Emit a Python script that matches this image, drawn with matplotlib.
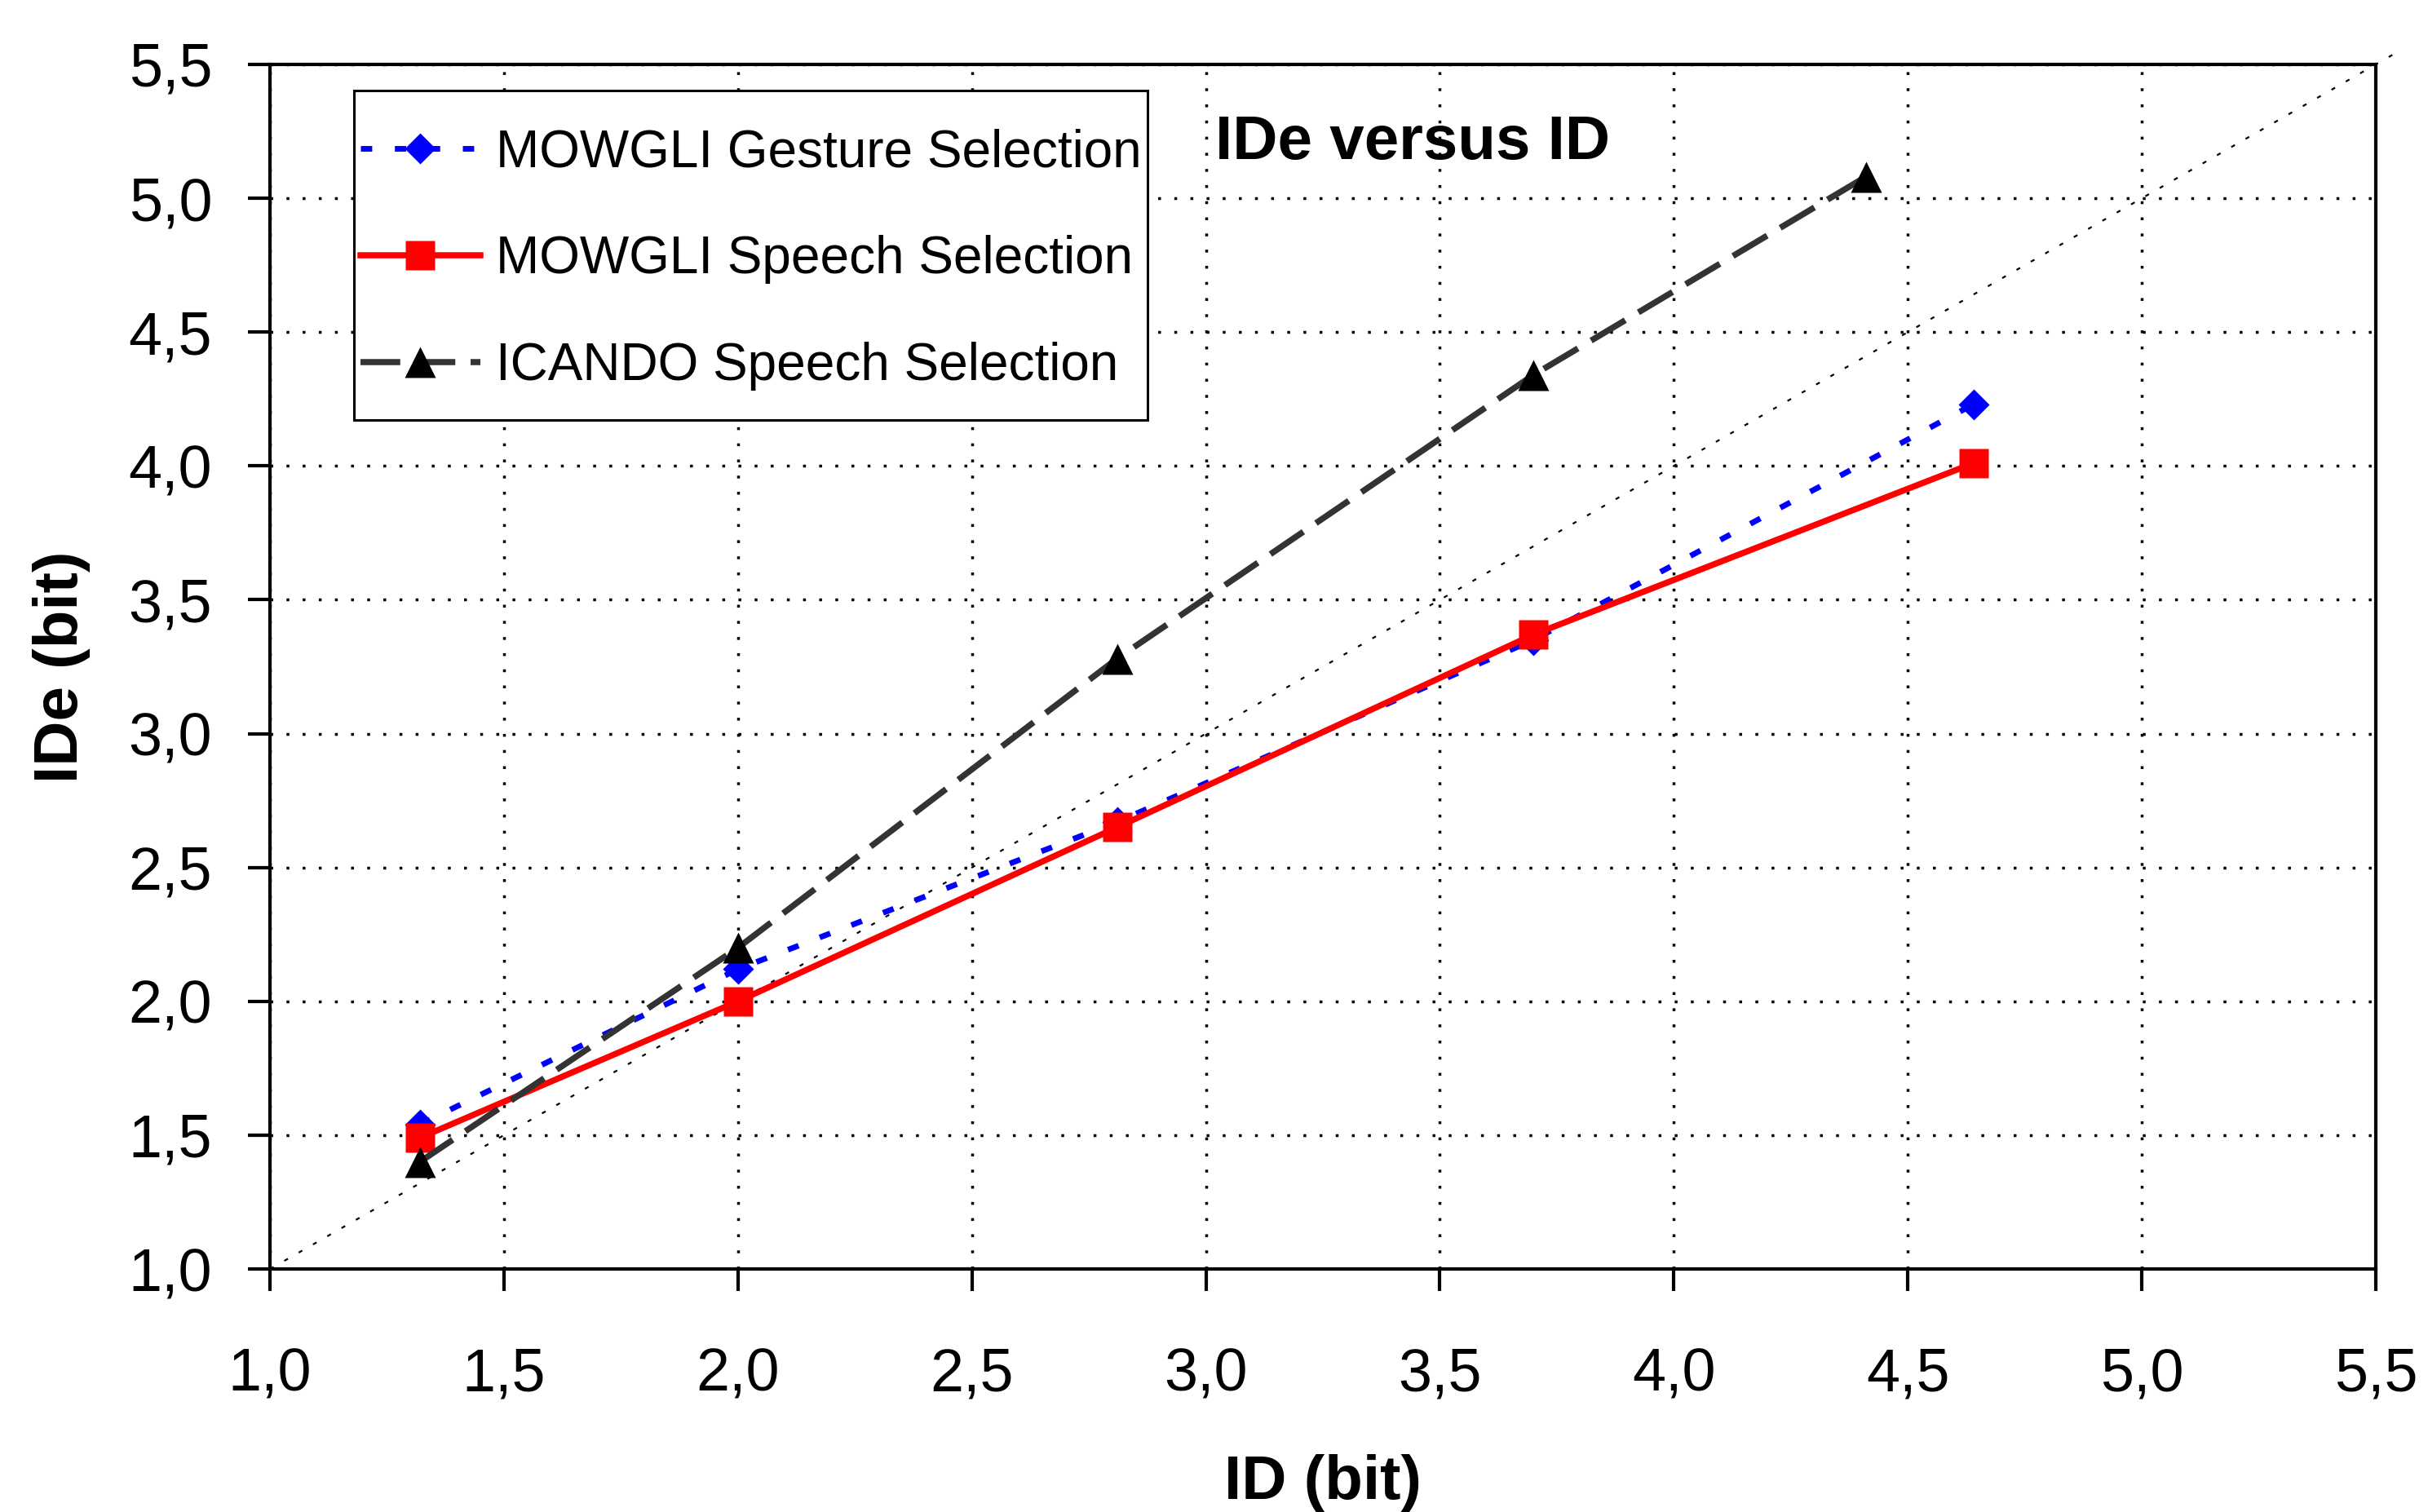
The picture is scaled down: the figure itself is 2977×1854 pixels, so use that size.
import numpy as np
import matplotlib
matplotlib.use("Agg")
import matplotlib.pyplot as plt
from matplotlib.ticker import FuncFormatter
from matplotlib.patches import Rectangle

plt.rcParams['font.family'] = ['Liberation Sans', 'DejaVu Sans']

# data
id_bits = [1.32, 2.00, 2.81, 3.70, 4.64]
gesture_ide = [1.54, 2.12, 2.67, 3.35, 4.23]
speech_ide = [1.49, 2.00, 2.65, 3.37, 4.01]

icando_id = [1.32, 2.00, 2.81, 3.70, 4.41]
icando_ide = [1.40, 2.20, 3.28, 4.34, 5.08]

diag = [1.0, 5.54]
ticks = [1.0, 1.5, 2.0, 2.5, 3.0, 3.5, 4.0, 4.5, 5.0, 5.5]

labels = ["MOWGLI Gesture Selection", "MOWGLI Speech Selection",
          "ICANDO Speech Selection"]

LEG_FS = 46


fig = plt.figure(figsize=(29.77, 18.54), dpi=100)
ax = fig.add_axes([0.1112, 0.1607, 0.8673, 0.7967])

# y = x reference
ax.plot(diag, diag, color='black', lw=1.6, linestyle=(0, (2.3, 6.8)),
        clip_on=False, zorder=1.5)

ax.plot(id_bits, gesture_ide, color='#0000ff', lw=5, linestyle=(0, (2.0, 4.0)),
        marker='D', ms=19, mec='none', label=labels[0], zorder=3)
ax.plot(id_bits, speech_ide, color='#ff0000', lw=5.4, linestyle='-',
        marker='s', ms=26, mec='none', label=labels[1], zorder=4)
ax.plot(icando_id, icando_ide, color='#333333', lw=5.4, linestyle=(0, (6.5, 2.5)),
        marker='^', ms=27, mfc='black', mec='none', label=labels[2], zorder=5)

ax.set_xlim(1.0, 5.5)
ax.set_ylim(1.0, 5.5)
ax.set_xticks(ticks)
ax.set_yticks(ticks)
fmt = FuncFormatter(lambda v, p: f"{v:.1f}".replace(".", ","))
ax.xaxis.set_major_formatter(fmt)
ax.yaxis.set_major_formatter(fmt)

ax.grid(True, color='black', linewidth=2.5, linestyle=(0, (1, 4.7)))
ax.set_axisbelow(True)

for sp in ax.spines.values():
    sp.set_linewidth(3)
    sp.set_zorder(6)
ax.tick_params(axis='both', direction='out', length=19.4, width=3,
               labelsize=53, colors='black')
ax.tick_params(axis='x', pad=49)
ax.tick_params(axis='y', pad=31.7)

ax.set_xlabel("ID (bit)", fontsize=55, fontweight='bold')
ax.xaxis.label.set_va('baseline')
ax.xaxis.set_label_coords(0.5, -0.191)
ax.set_ylabel("IDe (bit)", fontsize=55, fontweight='bold')
ax.yaxis.label.set_va('baseline')
ax.yaxis.set_label_coords(-0.0914, 0.5)

ax.text(0.449, 0.9215, "IDe versus ID", transform=ax.transAxes,
        fontsize=55, fontweight='bold', ha='left', va='baseline')

leg = ax.legend(loc='upper left', bbox_to_anchor=(0.0399, 0.9523),
                borderaxespad=0, fontsize=LEG_FS, frameon=False,
                borderpad=0.12, labelspacing=1.11, handlelength=2.3,
                handletextpad=0.3, numpoints=1)
leg.set_zorder(7)

# Excel-like legend box: tight at the sides, roomy above and below
fig.canvas.draw()
bb = leg.get_window_extent()
vpad = 0.52 * LEG_FS * fig.dpi / 72
shift = 5
inv = ax.transAxes.inverted()
x0, y0 = inv.transform((bb.x0, bb.y0 - vpad + shift))
x1, y1 = inv.transform((bb.x1, bb.y1 + vpad + shift))
ax.add_patch(Rectangle((x0, y0), x1 - x0, y1 - y0, transform=ax.transAxes,
                       facecolor='white', edgecolor='black', lw=2.2,
                       zorder=6.5))

fig.savefig("out.png", dpi=100)
